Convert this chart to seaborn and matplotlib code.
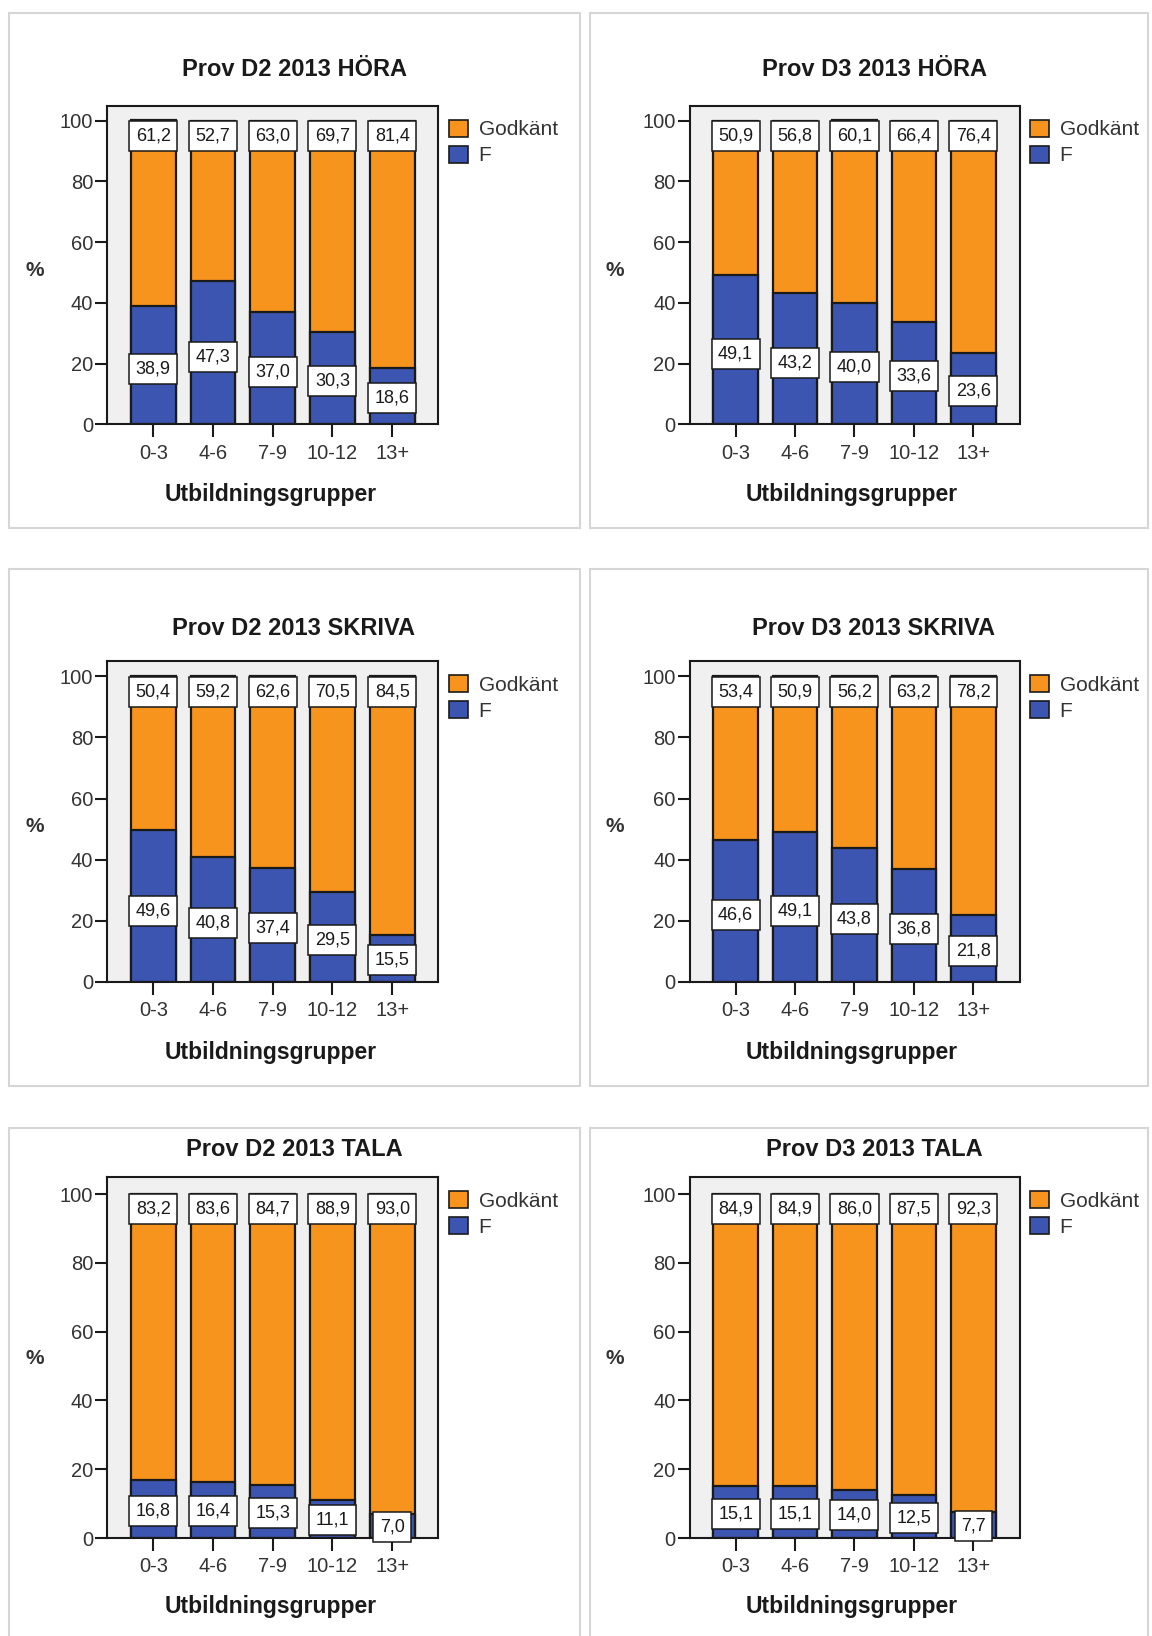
import matplotlib
matplotlib.use("Agg")
import matplotlib.pyplot as plt
from matplotlib.patches import Patch, Rectangle
import seaborn as sb
import numpy as np

# education groups (x axis) and the two outcome categories
groups = ['0-3', '4-6', '7-9', '10-12', '13+']
legend_labels = ['Godkänt', 'F']

titles = ['Prov D2 2013 HÖRA', 'Prov D3 2013 HÖRA',
          'Prov D2 2013 SKRIVA', 'Prov D3 2013 SKRIVA',
          'Prov D2 2013 TALA', 'Prov D3 2013 TALA']

# percent passed (Godkänt) per group
d2_hora_godkant = [61.2, 52.7, 63.0, 69.7, 81.4]
d3_hora_godkant = [50.9, 56.8, 60.1, 66.4, 76.4]
d2_skriva_godkant = [50.4, 59.2, 62.6, 70.5, 84.5]
d3_skriva_godkant = [53.4, 50.9, 56.2, 63.2, 78.2]
d2_tala_godkant = [83.2, 83.6, 84.7, 88.9, 93.0]
d3_tala_godkant = [84.9, 84.9, 86.0, 87.5, 92.3]

# percent failed (F) per group
d2_hora_f = [38.9, 47.3, 37.0, 30.3, 18.6]
d3_hora_f = [49.1, 43.2, 40.0, 33.6, 23.6]
d2_skriva_f = [49.6, 40.8, 37.4, 29.5, 15.5]
d3_skriva_f = [46.6, 49.1, 43.8, 36.8, 21.8]
d2_tala_f = [16.8, 16.4, 15.3, 11.1, 7.0]
d3_tala_f = [15.1, 15.1, 14.0, 12.5, 7.7]

y_ticks = [0, 20, 40, 60, 80, 100]

godkant_sets = [d2_hora_godkant, d3_hora_godkant, d2_skriva_godkant,
                d3_skriva_godkant, d2_tala_godkant, d3_tala_godkant]
f_sets = [d2_hora_f, d3_hora_f, d2_skriva_f, d3_skriva_f, d2_tala_f, d3_tala_f]

ORANGE = '#F7941E'
BLUE = '#3C55B0'
W, H = 1152, 1636

sb.set_style('white')
plt.rcParams['font.family'] = ['Liberation Sans', 'DejaVu Sans']

fig = plt.figure(figsize=(W / 100, H / 100), dpi=100)
fig.patch.set_facecolor('white')

# layout in pixels of the reference
col_left = [107, 689.5]
col_right = [438.5, 1019.5]
row_top = [105.5, 661, 1177]
row_bottom = [424.3, 982, 1538]
title_y = [69, 628, 1150]
xlabel_y = [495, 1053, 1606]
pct_y = [270, 826, 1358]
title_x = [294, 874]
xlabel_x = [271, 852]
pct_x = [35, 615]
frame_x = [(9, 580), (590, 1148)]
frame_y = [(12.5, 528), (569, 1086), (1128, 1700)]


def fx(x):
    return x / W


def fy(y):
    return 1 - y / H


def fmt(v):
    return ('%.1f' % v).replace('.', ',')


for k in range(6):
    r, c = k // 2, k % 2
    # light grey frame round each chart
    x0, x1 = frame_x[c]
    y0, y1 = frame_y[r]
    fig.add_artist(Rectangle((fx(x0), fy(y1)), fx(x1) - fx(x0), fy(y0) - fy(y1),
                             transform=fig.transFigure, facecolor='none',
                             edgecolor='#D6D6D6', linewidth=1.5, zorder=0))

    ax = fig.add_axes([fx(col_left[c]), fy(row_bottom[r]),
                       fx(col_right[c]) - fx(col_left[c]),
                       fy(row_top[r]) - fy(row_bottom[r])])
    ax.set_facecolor('#F0F0F0')

    g = np.array(godkant_sets[k])
    f = np.array(f_sets[k])
    total = g + f

    sb.barplot(x=groups, y=total, color=ORANGE, saturation=1, width=0.75,
               edgecolor='#1a1a1a', linewidth=1.6, errorbar=None, ax=ax)
    sb.barplot(x=groups, y=f, color=BLUE, saturation=1, width=0.75,
               edgecolor='#1a1a1a', linewidth=1.6, errorbar=None, ax=ax)

    box = dict(boxstyle='square,pad=0.36', facecolor='white', edgecolor='#1a1a1a', linewidth=1.1)
    for i in range(len(groups)):
        ax.annotate(fmt(g[i]), xy=(i, 100), xytext=(0, -11), textcoords='offset points',
                    ha='center', va='center', fontsize=13, bbox=box, zorder=5,
                    color='#1a1a1a')
        ax.text(i, f[i] * 0.47, fmt(f[i]), ha='center', va='center', fontsize=13,
                bbox=box, zorder=5, clip_on=False, color='#1a1a1a')

    ax.set_xlim(-0.775, 4.775)
    ax.set_ylim(0, 105)
    ax.set_yticks(y_ticks)
    ax.set_xlabel('')
    ax.set_ylabel('')
    for s in ax.spines.values():
        s.set_visible(True)
        s.set_color('#1a1a1a')
        s.set_linewidth(1.5)
    ax.tick_params(axis='y', direction='out', length=9, width=1.5, pad=1,
                   labelsize=14.5, colors='#1a1a1a', left=True)
    ax.tick_params(axis='x', direction='out', length=9, width=1.5, pad=5,
                   labelsize=14.5, colors='#1a1a1a', bottom=True)
    for lab in ax.get_yticklabels() + ax.get_xticklabels():
        lab.set_color('#333333')

    handles = [Patch(facecolor=ORANGE, edgecolor='#1a1a1a', linewidth=1.2),
               Patch(facecolor=BLUE, edgecolor='#1a1a1a', linewidth=1.2)]
    ax.legend(handles, legend_labels, loc='upper left', frameon=False,
              bbox_to_anchor=(fx(col_right[c] + 10), fy(row_top[r] + 14)),
              bbox_transform=fig.transFigure, borderpad=0, borderaxespad=0,
              handlelength=0.95, handleheight=0.9, labelspacing=0.3,
              handletextpad=0.5, fontsize=15, labelcolor='#333333')

    fig.text(fx(title_x[c]), fy(title_y[r]), titles[k], ha='center', va='center',
             fontsize=17, fontweight='bold', color='#1a1a1a')
    fig.text(fx(xlabel_x[c]), fy(xlabel_y[r]), 'Utbildningsgrupper', ha='center',
             va='center', fontsize=16.5, fontweight='bold', color='#1a1a1a')
    fig.text(fx(pct_x[c]), fy(pct_y[r]), '%', ha='center', va='center',
             fontsize=15, fontweight='bold', color='#333333')

fig.savefig('out.png', dpi=100, facecolor='white')
